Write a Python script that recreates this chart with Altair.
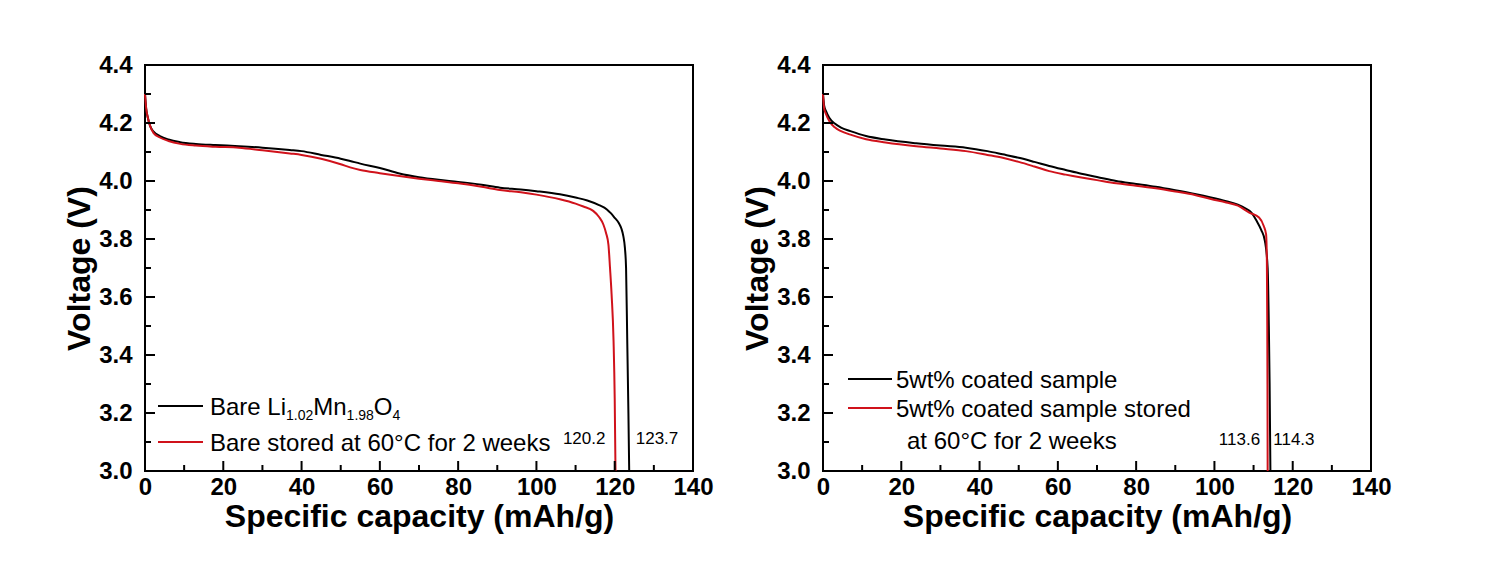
import altair as alt
import pandas as pd

FONT = "Liberation Sans"
RED = "#d0121b"
W, H = 548, 406

# ---------------- data ----------------
# Left panel: bare Li1.02Mn1.98O4
bare_cap = [0, 0.3, 0.7, 1.3, 2.2, 3.8, 6, 9, 13, 18, 24, 30, 37, 40, 45, 50, 52.4, 55, 60, 65, 70, 75,
            80, 86, 90.7, 96, 100, 106, 110, 113, 116, 118, 119, 120, 121, 121.7, 122.2, 122.6, 122.9,
            123.2, 123.5, 123.7]
bare_v = [4.30, 4.25, 4.22, 4.19, 4.17, 4.155, 4.143, 4.134, 4.128, 4.124, 4.12, 4.115, 4.107, 4.103, 4.09,
          4.077, 4.069, 4.06, 4.045, 4.026, 4.013, 4.004, 3.997, 3.987, 3.977, 3.971, 3.965, 3.954, 3.943,
          3.933, 3.917, 3.902, 3.889, 3.873, 3.856, 3.836, 3.81, 3.77, 3.70, 3.45, 3.2, 3.0]

stored_cap = [0, 0.3, 0.7, 1.3, 2.2, 3.8, 6, 9, 13, 18, 24, 30, 37, 40, 45, 50, 52.4, 55, 60, 65, 70, 75,
              80, 86, 90.7, 96, 100, 106, 110, 112, 114.5, 116, 117.1, 117.8, 118.4, 118.8, 119.2, 119.7,
              120.0, 120.2]
stored_v = [4.30, 4.25, 4.22, 4.19, 4.165, 4.15, 4.138, 4.128, 4.122, 4.118, 4.115, 4.106, 4.095, 4.09,
            4.077, 4.058, 4.047, 4.038, 4.027, 4.017, 4.008, 4.0, 3.992, 3.98, 3.969, 3.961, 3.953, 3.937,
            3.922, 3.912, 3.897, 3.876, 3.85, 3.82, 3.78, 3.70, 3.61, 3.45, 3.25, 3.0]

# Right panel: 5 wt% coated sample
coat_cap = [0, 0.3, 0.8, 1.6, 3, 4.6, 7, 11, 16, 23.8, 30, 36.5, 42, 45.9, 50, 54, 57.8, 62, 66, 70,
            74.9, 80, 85, 90, 95, 99.1, 103, 106, 108, 109.4, 110.8, 112.0, 112.9, 113.6, 113.9, 114.1, 114.3]
coat_v = [4.30, 4.26, 4.24, 4.218, 4.198, 4.184, 4.172, 4.155, 4.143, 4.13, 4.122, 4.115, 4.103, 4.092,
          4.08, 4.066, 4.052, 4.038, 4.025, 4.014, 4.0, 3.99, 3.98, 3.968, 3.955, 3.943, 3.93, 3.918,
          3.905, 3.892, 3.862, 3.83, 3.793, 3.70, 3.5, 3.3, 3.0]

coat_st_cap = [0, 0.3, 0.8, 1.6, 3, 4.6, 7, 11, 16, 23.8, 30, 36.5, 42, 45.9, 50, 54, 57.8, 62, 66, 70,
               74.9, 80, 85, 90, 95, 99.1, 103, 106, 108.9, 111.4, 112.6, 113.2, 113.4, 113.5, 113.55, 113.6]
coat_st_v = [4.30, 4.25, 4.23, 4.207, 4.185, 4.172, 4.16, 4.144, 4.133, 4.12, 4.112, 4.103, 4.09, 4.08,
             4.066, 4.05, 4.034, 4.022, 4.012, 4.003, 3.992, 3.984, 3.975, 3.964, 3.952, 3.938, 3.926,
             3.915, 3.891, 3.874, 3.845, 3.816, 3.72, 3.5, 3.3, 3.0]

x_major = [0, 20, 40, 60, 80, 100, 120, 140]
x_minor = [10, 30, 50, 70, 90, 110, 130]
y_major = [3.0, 3.2, 3.4, 3.6, 3.8, 4.0, 4.2, 4.4]
y_minor = [3.1, 3.3, 3.5, 3.7, 3.9, 4.1, 4.3]

left_notes = {"cap": [112.2, 130.8], "V": [3.110, 3.110], "label": ["120.2", "123.7"]}
right_notes = {"cap": [106.4, 120.3], "V": [3.107, 3.107], "label": ["113.6", "114.3"]}

X_TITLE = "Specific capacity (mAh/g)"
Y_TITLE = "Voltage (V)"

# ---------------- helpers ----------------
xscale = alt.Scale(domain=[0, 140], nice=False, zero=False)
yscale = alt.Scale(domain=[3.0, 4.4], nice=False, zero=False)

x_axis = alt.Axis(values=x_major, ticks=False, domain=False, grid=False, labelFlush=False,
                  labelOverlap=False, labelPadding=4, labelFont=FONT, labelFontSize=24,
                  labelFontWeight="bold", labelColor="black", titleFont=FONT, titleFontSize=32,
                  titleFontWeight="bold", titleColor="black", titlePadding=2, format=".0f")
y_axis = alt.Axis(values=y_major, ticks=False, domain=False, grid=False, labelFlush=False,
                  labelOverlap=False, labelPadding=13, labelFont=FONT, labelFontSize=24,
                  labelFontWeight="bold", labelColor="black", titleFont=FONT, titleFontSize=32,
                  titleFontWeight="bold", titleColor="black", titlePadding=2, format=".1f")


def X():
    return alt.X("cap:Q", scale=xscale, axis=x_axis, title=X_TITLE)


def Y():
    return alt.Y("V:Q", scale=yscale, axis=y_axis, title=Y_TITLE)


def curve(cap, v, color):
    df = pd.DataFrame({"cap": cap, "V": v})
    return alt.Chart(df).mark_line(color=color, strokeWidth=2, interpolate="monotone").encode(x=X(), y=Y())


def xticks(values, length):
    return alt.Chart(pd.DataFrame({"cap": values})).mark_rule(color="black", strokeWidth=2).encode(
        x=X(), y=alt.value(H), y2=alt.value(H - length))


def yticks(values, length):
    return alt.Chart(pd.DataFrame({"V": values})).mark_rule(color="black", strokeWidth=2).encode(
        y=Y(), x=alt.value(0), x2=alt.value(length))


def seg(text, px, py, size):
    return alt.Chart(pd.DataFrame({"a": [0]})).mark_text(
        align="left", baseline="alphabetic", font=FONT, fontSize=size, color="black"
    ).encode(x=alt.value(px), y=alt.value(py), text=alt.value(text))


def key_line(x1, x2, y, color):
    return alt.Chart(pd.DataFrame({"a": [0]})).mark_rule(color=color, strokeWidth=2).encode(
        x=alt.value(x1), x2=alt.value(x2), y=alt.value(y))


def notes(d):
    return alt.Chart(pd.DataFrame(d)).mark_text(
        font=FONT, fontSize=17, color="black", align="center", baseline="middle"
    ).encode(x=X(), y=Y(), text="label:N")


# Arial-metric widths for subscript layout
WID = {"B": .667, "a": .556, "r": .333, "e": .556, " ": .278, "L": .556, "i": .222, "M": .833,
       "n": .556, "O": .778, "1": .556, ".": .278, "0": .556, "2": .556, "9": .556, "8": .556, "4": .556}


def width(t, size):
    return sum(WID[c] for c in t) * size


# ---------------- left panel ----------------
row1_parts = [("Bare Li", 24, 0), ("1.02", 14, 5), ("Mn", 24, 0), ("1.98", 14, 5), ("O", 24, 0), ("4", 14, 5)]
left_legend = [key_line(13, 58, 341, "black"), key_line(13, 58, 377, RED)]
px = 65
for t, s, dy in row1_parts:
    left_legend.append(seg(t, px, 349.6 + dy, s))
    px += width(t, s)
left_legend.append(seg("Bare stored at 60\u00b0C for 2 weeks", 65, 385.6, 24))

left = alt.layer(
    curve(bare_cap, bare_v, "black"),
    curve(stored_cap, stored_v, RED),
    xticks(x_major, 10), xticks(x_minor, 6), yticks(y_major, 10), yticks(y_minor, 6),
    notes(left_notes),
    *left_legend,
).properties(width=W, height=H)

# ---------------- right panel ----------------
right_legend = [
    key_line(25, 69, 314, "black"), key_line(25, 69, 343, RED),
    seg("5wt% coated sample", 73, 322.6, 24),
    seg("5wt% coated sample stored", 73, 351.6, 24),
    seg("at 60\u00b0C for 2 weeks", 84, 383.6, 24),
]

right = alt.layer(
    curve(coat_cap, coat_v, "black"),
    curve(coat_st_cap, coat_st_v, RED),
    xticks(x_major, 10), xticks(x_minor, 6), yticks(y_major, 10), yticks(y_minor, 6),
    notes(right_notes),
    *right_legend,
).properties(width=W, height=H)

chart = alt.hconcat(left, right, spacing=25).properties(
    padding={"left": 54, "top": 44, "right": 5, "bottom": 5},
    background="white",
).configure_view(stroke="black", strokeWidth=2)

chart.save("out.html", embed_options={"renderer": "svg", "actions": False})
